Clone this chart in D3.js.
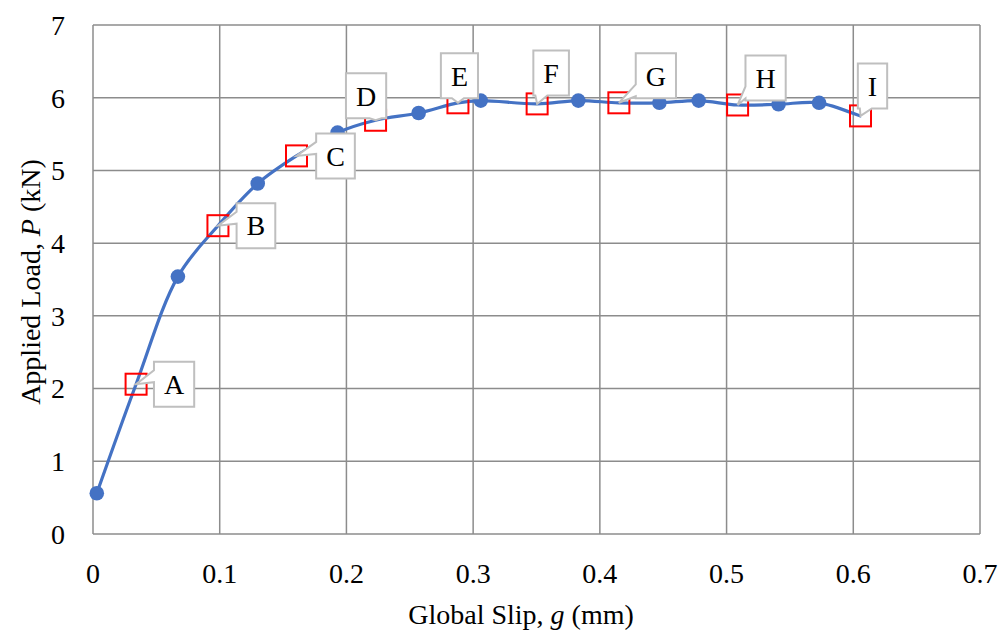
<!DOCTYPE html>
<html>
<head>
<meta charset="utf-8">
<script src="https://cdn.jsdelivr.net/npm/d3@7"></script>
<style>
  html, body { margin: 0; padding: 0; background: #fff; }
  svg { display: block; }
</style>
</head>
<body>
<svg id="chart" width="1001" height="634"></svg>
<script>
// ---- data ----
const slip = [0.003, 0.067, 0.130, 0.193, 0.257, 0.306, 0.383, 0.447, 0.478, 0.541, 0.573, 0.606];
const load = [0.56, 3.54, 4.82, 5.52, 5.79, 5.96, 5.96, 5.93, 5.96, 5.91, 5.93, 5.75];
const stageLabels = ["A", "B", "C", "D", "E", "F", "G", "H", "I"];
const stageSlip = [0.034, 0.0986, 0.1606, 0.223, 0.288, 0.3505, 0.415, 0.5087, 0.6057];
const stageLoad = [2.06, 4.24, 5.20, 5.69, 5.93, 5.915, 5.93, 5.90, 5.75];
const xTicks = [0, 0.1, 0.2, 0.3, 0.4, 0.5, 0.6, 0.7];
const yTicks = [0, 1, 2, 3, 4, 5, 6, 7];

// ---- layout (callout box centre offsets in px from each stage marker) ----
const calloutDx = [38, 38, 39, -9.5, 1.5, 14, 37, 28, 12];
const calloutDy = [0, 0, 0, -24.5, -27, -31, -27, -27, -30];

const FONT = "Liberation Serif";
const svg = d3.select("#chart");
const x = d3.scaleLinear().domain([0, 0.7]).range([93, 980]);
const y = d3.scaleLinear().domain([0, 7]).range([534, 25]);
const grid = "#8c8c8c";

// grid
svg.append("g").selectAll("line").data(xTicks).join("line")
  .attr("x1", d => x(d)).attr("x2", d => x(d))
  .attr("y1", y(0)).attr("y2", y(7))
  .attr("stroke", grid).attr("stroke-width", 1.5);
svg.append("g").selectAll("line").data(yTicks).join("line")
  .attr("x1", x(0)).attr("x2", x(0.7))
  .attr("y1", d => y(d)).attr("y2", d => y(d))
  .attr("stroke", grid).attr("stroke-width", 1.5);

// tick labels
svg.append("g").selectAll("text").data(xTicks).join("text")
  .style("font-family", FONT)
  .attr("x", d => x(d)).attr("y", 583)
  .attr("text-anchor", "middle").attr("font-size", 28)
  .text(d => d === 0 ? "0" : d3.format(".1f")(d));
svg.append("g").selectAll("text").data(yTicks).join("text")
  .style("font-family", FONT)
  .attr("x", 65).attr("y", d => y(d)).attr("dy", "0.35em")
  .attr("text-anchor", "end").attr("font-size", 28)
  .text(d => d);

// axis titles
const xt = svg.append("text").style("font-family", FONT).attr("x", 521).attr("y", 624)
  .attr("text-anchor", "middle").attr("font-size", 28);
xt.append("tspan").text("Global Slip, ");
xt.append("tspan").attr("font-style", "italic").text("g");
xt.append("tspan").text(" (mm)");

const yt = svg.append("text").style("font-family", FONT)
  .attr("transform", "translate(40,282) rotate(-90)")
  .attr("text-anchor", "middle").attr("font-size", 28);
yt.append("tspan").text("Applied Load, ");
yt.append("tspan").attr("font-style", "italic").text("P");
yt.append("tspan").text(" (kN)");

// series line passes through both the marked readings and the stage points
const markerPts = slip.map((s, i) => [s, load[i]]);
const stagePts = stageSlip.map((s, i) => [s, stageLoad[i]]);
const pts = markerPts.concat(stagePts).sort((a, b) => a[0] - b[0]);
const line = d3.line().x(d => x(d[0])).y(d => y(d[1])).curve(d3.curveCatmullRom.alpha(0.5));
svg.append("path").datum(pts).attr("d", line)
  .attr("fill", "none").attr("stroke", "#4472C4").attr("stroke-width", 3.2);

// markers (last reading has no marker)
svg.append("g").selectAll("circle").data(markerPts.slice(0, -1)).join("circle")
  .attr("cx", d => x(d[0])).attr("cy", d => y(d[1])).attr("r", 7.3)
  .attr("fill", "#4472C4");

// stage squares
const stages = stageLabels.map((l, i) => ({ l, sx: stageSlip[i], sy: stageLoad[i], dx: calloutDx[i], dy: calloutDy[i] }));
svg.append("g").selectAll("rect").data(stages).join("rect")
  .attr("x", d => x(d.sx) - 10.5).attr("y", d => y(d.sy) - 10.5)
  .attr("width", 21).attr("height", 21)
  .attr("fill", "none").attr("stroke", "#ff0000").attr("stroke-width", 2);

// callouts
const cg = svg.append("g");
stages.forEach(d => {
  const tx = x(d.sx), ty = y(d.sy);
  const cx = tx + d.dx, cy = ty + d.dy;
  const t = cg.append("text").style("font-family", FONT).attr("font-size", 28)
    .attr("text-anchor", "middle").text(d.l);
  const w = t.node().getComputedTextLength() + 20, h = 45;
  const x0 = cx - w / 2, x1 = cx + w / 2, y0 = cy - h / 2, y1 = cy + h / 2;
  const nx = (tx - cx) / (w / 2), ny = (ty - cy) / (h / 2);
  const clamp = (v, a, b) => Math.max(a, Math.min(b, v));
  const hb = 6;
  let p = `M${x0},${y0}`;
  if (Math.abs(ny) >= Math.abs(nx) && ny < -1) {
    const bc = clamp(tx, x0 + hb + 2, x1 - hb - 2);
    p += `L${bc - hb},${y0}L${tx},${ty}L${bc + hb},${y0}`;
  }
  p += `L${x1},${y0}`;
  if (Math.abs(nx) > Math.abs(ny) && nx > 1) {
    const bc = clamp(ty, y0 + hb + 2, y1 - hb - 2);
    p += `L${x1},${bc - hb}L${tx},${ty}L${x1},${bc + hb}`;
  }
  p += `L${x1},${y1}`;
  if (Math.abs(ny) >= Math.abs(nx) && ny > 1) {
    const bc = clamp(tx, x0 + hb + 2, x1 - hb - 2);
    p += `L${bc + hb},${y1}L${tx},${ty}L${bc - hb},${y1}`;
  }
  p += `L${x0},${y1}`;
  if (Math.abs(nx) > Math.abs(ny) && nx < -1) {
    const bc = clamp(ty - 8, y0 + hb + 2, y1 - hb - 2);
    p += `L${x0},${bc + hb}L${tx},${ty}L${x0},${bc - hb}`;
  }
  p += "Z";
  cg.insert("path", () => t.node()).attr("d", p)
    .attr("fill", "#fff").attr("stroke", "#bfbfbf").attr("stroke-width", 2)
    .attr("stroke-linejoin", "miter");
  t.attr("x", cx).attr("y", cy).attr("dy", "0.35em");
});
</script>
</body>
</html>
